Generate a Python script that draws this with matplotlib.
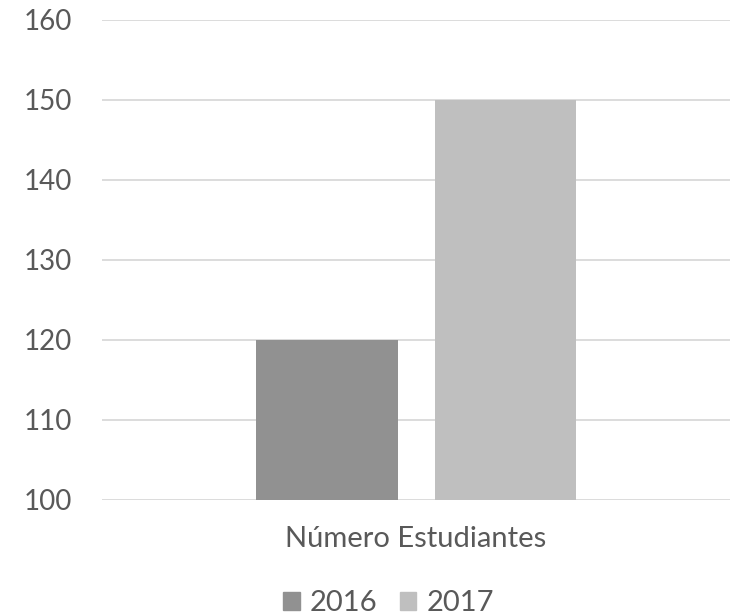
import matplotlib
matplotlib.use("Agg")
import matplotlib.pyplot as plt
from matplotlib.patches import Patch

plt.rcParams['font.family'] = ['Lato', 'DejaVu Sans']

category = "Número Estudiantes"
series = ["2016", "2017"]
values = [120, 150]
colors = ["#919191", "#bfbfbf"]
yticks = [100, 110, 120, 130, 140, 150, 160]

W, H = 737, 616
fig = plt.figure(figsize=(W/100, H/100), dpi=100)
ax = fig.add_axes([102/W, 1-500/H, (730-102)/W, 480/H])

bw = 0.226
offsets = [-0.1417, 0.1425]
for v, c, o, s in zip(values, colors, offsets, series):
    ax.bar(o, v - 100, bottom=100, width=bw, color=c, label=s, zorder=3)

ax.set_xlim(-0.5, 0.5)
ax.set_ylim(100, 160)
ax.set_yticks(yticks)
ax.set_yticklabels([str(t) for t in yticks], fontsize=20, color="#595959")
ax.set_xticks([0])
ax.set_xticklabels([category], fontsize=21, color="#595959")
ax.tick_params(axis='both', length=0)
ax.tick_params(axis='y', pad=21.6)
ax.tick_params(axis='x', pad=19)
ax.grid(axis='y', color="#d9d9d9", linewidth=1.3, zorder=0)
for sp in ax.spines.values():
    sp.set_visible(False)

handles = [Patch(color=c, label=s) for c, s in zip(colors, series)]
fig.legend(handles=handles, loc='center', bbox_to_anchor=(388.5/W, 1-603/H),
           ncol=2, frameon=False, fontsize=21, labelcolor="#595959",
           handlelength=0.58, handleheight=0.58, handletextpad=0.34,
           columnspacing=0.75, borderpad=0, borderaxespad=0)

fig.savefig("out.png", dpi=100)
